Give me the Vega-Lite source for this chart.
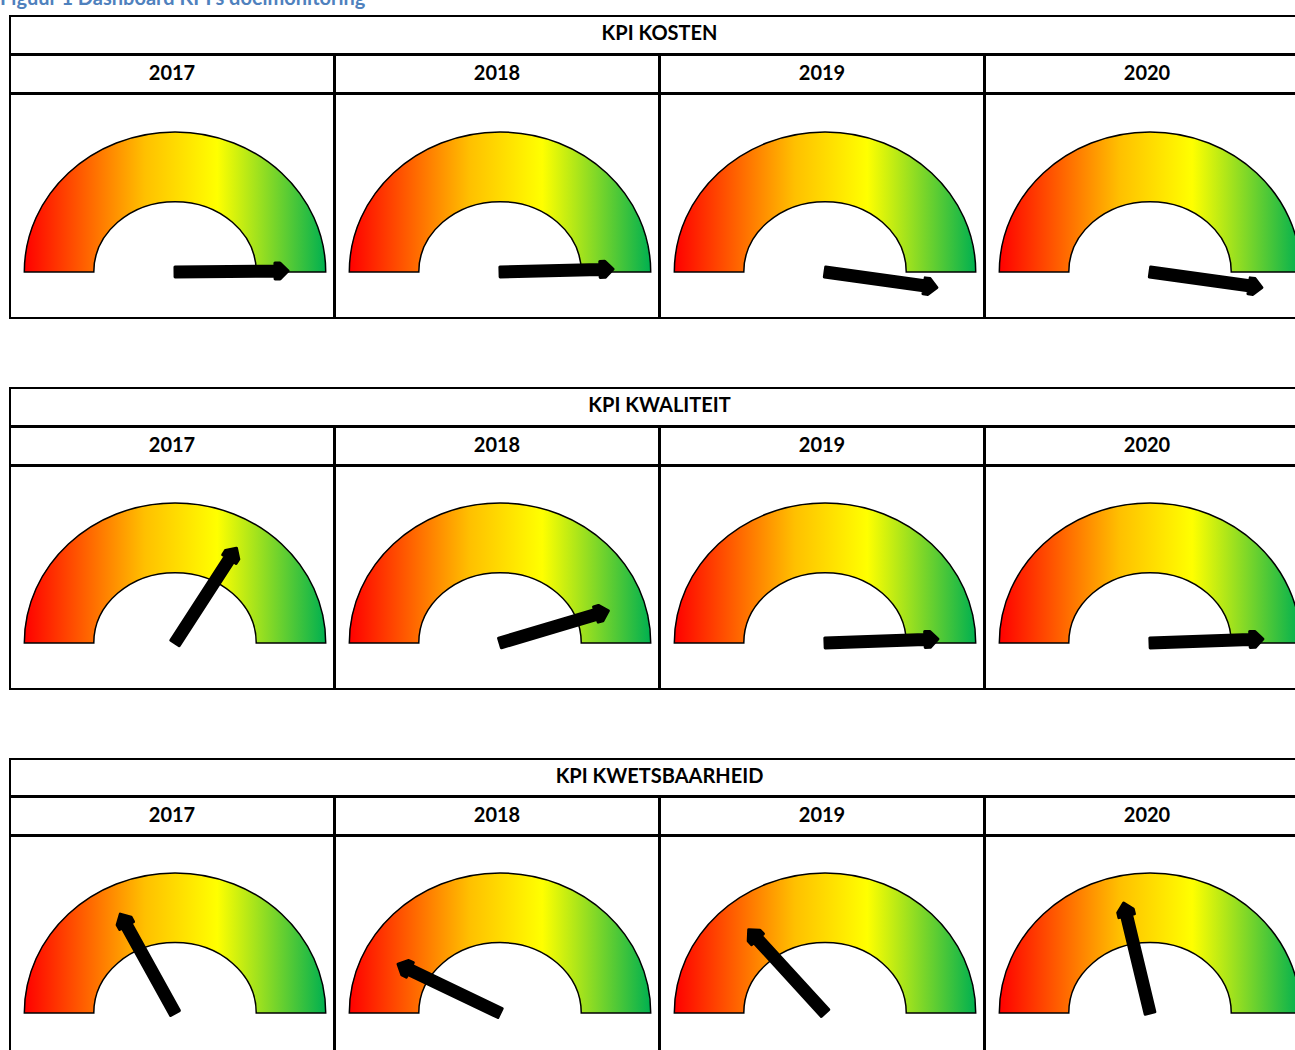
{
  "$schema": "https://vega.github.io/schema/vega-lite/v6.json",
  "padding": {"left": 0, "top": -11, "right": -15, "bottom": -12},
  "title": {"text": "Figuur 1 Dashboard KPI's doelmonitoring", "anchor": "start", "color": "#4F81BD", "font": "Lato", "fontSize": 20, "fontWeight": "bold", "dx": -9, "offset": 6},
  "datasets": {
    "kpi": [
      {"kpi": "KPI KOSTEN", "year": "2017", "value": 99.7},
      {"kpi": "KPI KOSTEN", "year": "2018", "value": 99.2},
      {"kpi": "KPI KOSTEN", "year": "2019", "value": 104.4},
      {"kpi": "KPI KOSTEN", "year": "2020", "value": 104.4},
      {"kpi": "KPI KWALITEIT", "year": "2017", "value": 68.3},
      {"kpi": "KPI KWALITEIT", "year": "2018", "value": 90.8},
      {"kpi": "KPI KWALITEIT", "year": "2019", "value": 98.9},
      {"kpi": "KPI KWALITEIT", "year": "2020", "value": 98.9},
      {"kpi": "KPI KWETSBAARHEID", "year": "2017", "value": 33.9},
      {"kpi": "KPI KWETSBAARHEID", "year": "2018", "value": 14.2},
      {"kpi": "KPI KWETSBAARHEID", "year": "2019", "value": 26.4},
      {"kpi": "KPI KWETSBAARHEID", "year": "2020", "value": 42.5}
    ]
  },
  "config": {
    "view": {"stroke": "black", "strokeWidth": 2},
    "text": {"font": "Lato", "fontSize": 20, "fontWeight": "bold", "color": "black", "align": "center", "baseline": "middle"},
    "facet": {"spacing": -2},
    "concat": {"spacing": -2}
  },
  "spacing": 68,
  "vconcat": [
    {
      "spacing": -2,
      "vconcat": [
        {
          "data": {"name": "kpi"},
          "transform": [{"filter": "datum.kpi === 'KPI KOSTEN'"}, {"aggregate": [{"op": "count", "as": "n"}], "groupby": ["kpi"]}],
          "width": 1299, "height": 38,
          "mark": {"type": "text", "dy": -1},
          "encoding": {
            "x": {"datum": 0, "type": "quantitative", "scale": {"domain": [-1, 1], "nice": false}, "axis": null},
            "y": {"datum": 0, "type": "quantitative", "scale": {"domain": [-1, 1], "nice": false}, "axis": null},
            "text": {"field": "kpi", "type": "nominal"}
          }
        },
        {
          "data": {"name": "kpi"},
          "transform": [{"filter": "datum.kpi === 'KPI KOSTEN'"}],
          "facet": {"column": {"field": "year", "type": "ordinal", "title": null, "header": {"labels": false}}},
          "spacing": -2,
          "spec": {
            "width": 324, "height": 38,
            "mark": {"type": "text"},
            "encoding": {
              "x": {"datum": 0, "type": "quantitative", "scale": {"domain": [-1, 1], "nice": false}, "axis": null},
              "y": {"datum": 0, "type": "quantitative", "scale": {"domain": [-1, 1], "nice": false}, "axis": null},
              "text": {"field": "year", "type": "nominal"}
            }
          }
        },
        {
          "data": {"name": "kpi"},
          "transform": [{"filter": "datum.kpi === 'KPI KOSTEN'"}],
          "facet": {"column": {"field": "year", "type": "ordinal", "title": null, "header": {"labels": false}}},
          "spacing": -2,
          "spec": {
            "width": 324, "height": 224,
            "encoding": {
              "x": {"datum": 0, "type": "quantitative", "scale": {"domain": [-1.095, 1.055], "nice": false, "zero": false}, "axis": null},
              "y": {"datum": 0, "type": "quantitative", "scale": {"domain": [-0.3052, 1.1812], "nice": false, "zero": false}, "axis": null}
            },
            "layer": [
              {
                "mark": {"type": "point", "shape": "M -1 0 A 1 0.929 0 0 1 1 0 L 0.539 0 A 0.539 0.467 0 0 0 -0.539 0 Z", "size": 90844, "filled": true, "opacity": 1, "stroke": "black", "strokeWidth": 1.5,
                  "fill": {"gradient": "linear", "x1": 0, "y1": 0, "x2": 1, "y2": 0, "stops": [{"offset": 0, "color": "#FF0000"}, {"offset": 0.4, "color": "#FFC000"}, {"offset": 0.64, "color": "#FFFF00"}, {"offset": 1, "color": "#00B050"}]}}
              },
              {
                "mark": {"type": "point", "shape": "M -0.05 0 L -0.05 -1.0 L -0.08 -1.0 L -0.08 -1.05 L 0 -1.13 L 0.08 -1.05 L 0.08 -1.0 L 0.05 -1.0 L 0.05 0 Z", "size": 40000, "filled": true, "opacity": 1, "fill": "black", "stroke": "black", "strokeWidth": 3, "strokeJoin": "round"},
                "encoding": {"angle": {"field": "value", "type": "quantitative", "scale": {"domain": [0, 100], "range": [-90, 90]}, "legend": null}}
              }
            ]
          }
        }
      ]
    },
    {
      "spacing": -2,
      "vconcat": [
        {
          "data": {"name": "kpi"},
          "transform": [{"filter": "datum.kpi === 'KPI KWALITEIT'"}, {"aggregate": [{"op": "count", "as": "n"}], "groupby": ["kpi"]}],
          "width": 1299, "height": 38,
          "mark": {"type": "text", "dy": -1},
          "encoding": {
            "x": {"datum": 0, "type": "quantitative", "scale": {"domain": [-1, 1], "nice": false}, "axis": null},
            "y": {"datum": 0, "type": "quantitative", "scale": {"domain": [-1, 1], "nice": false}, "axis": null},
            "text": {"field": "kpi", "type": "nominal"}
          }
        },
        {
          "data": {"name": "kpi"},
          "transform": [{"filter": "datum.kpi === 'KPI KWALITEIT'"}],
          "facet": {"column": {"field": "year", "type": "ordinal", "title": null, "header": {"labels": false}}},
          "spacing": -2,
          "spec": {
            "width": 324, "height": 38,
            "mark": {"type": "text"},
            "encoding": {
              "x": {"datum": 0, "type": "quantitative", "scale": {"domain": [-1, 1], "nice": false}, "axis": null},
              "y": {"datum": 0, "type": "quantitative", "scale": {"domain": [-1, 1], "nice": false}, "axis": null},
              "text": {"field": "year", "type": "nominal"}
            }
          }
        },
        {
          "data": {"name": "kpi"},
          "transform": [{"filter": "datum.kpi === 'KPI KWALITEIT'"}],
          "facet": {"column": {"field": "year", "type": "ordinal", "title": null, "header": {"labels": false}}},
          "spacing": -2,
          "spec": {
            "width": 324, "height": 223,
            "encoding": {
              "x": {"datum": 0, "type": "quantitative", "scale": {"domain": [-1.095, 1.055], "nice": false, "zero": false}, "axis": null},
              "y": {"datum": 0, "type": "quantitative", "scale": {"domain": [-0.3052, 1.1745], "nice": false, "zero": false}, "axis": null}
            },
            "layer": [
              {
                "mark": {"type": "point", "shape": "M -1 0 A 1 0.929 0 0 1 1 0 L 0.539 0 A 0.539 0.467 0 0 0 -0.539 0 Z", "size": 90844, "filled": true, "opacity": 1, "stroke": "black", "strokeWidth": 1.5,
                  "fill": {"gradient": "linear", "x1": 0, "y1": 0, "x2": 1, "y2": 0, "stops": [{"offset": 0, "color": "#FF0000"}, {"offset": 0.4, "color": "#FFC000"}, {"offset": 0.64, "color": "#FFFF00"}, {"offset": 1, "color": "#00B050"}]}}
              },
              {
                "mark": {"type": "point", "shape": "M -0.05 0 L -0.05 -1.0 L -0.08 -1.0 L -0.08 -1.05 L 0 -1.13 L 0.08 -1.05 L 0.08 -1.0 L 0.05 -1.0 L 0.05 0 Z", "size": 40000, "filled": true, "opacity": 1, "fill": "black", "stroke": "black", "strokeWidth": 3, "strokeJoin": "round"},
                "encoding": {"angle": {"field": "value", "type": "quantitative", "scale": {"domain": [0, 100], "range": [-90, 90]}, "legend": null}}
              }
            ]
          }
        }
      ]
    },
    {
      "spacing": -2,
      "vconcat": [
        {
          "data": {"name": "kpi"},
          "transform": [{"filter": "datum.kpi === 'KPI KWETSBAARHEID'"}, {"aggregate": [{"op": "count", "as": "n"}], "groupby": ["kpi"]}],
          "width": 1299, "height": 37,
          "mark": {"type": "text", "dy": -1},
          "encoding": {
            "x": {"datum": 0, "type": "quantitative", "scale": {"domain": [-1, 1], "nice": false}, "axis": null},
            "y": {"datum": 0, "type": "quantitative", "scale": {"domain": [-1, 1], "nice": false}, "axis": null},
            "text": {"field": "kpi", "type": "nominal"}
          }
        },
        {
          "data": {"name": "kpi"},
          "transform": [{"filter": "datum.kpi === 'KPI KWETSBAARHEID'"}],
          "facet": {"column": {"field": "year", "type": "ordinal", "title": null, "header": {"labels": false}}},
          "spacing": -2,
          "spec": {
            "width": 324, "height": 38,
            "mark": {"type": "text"},
            "encoding": {
              "x": {"datum": 0, "type": "quantitative", "scale": {"domain": [-1, 1], "nice": false}, "axis": null},
              "y": {"datum": 0, "type": "quantitative", "scale": {"domain": [-1, 1], "nice": false}, "axis": null},
              "text": {"field": "year", "type": "nominal"}
            }
          }
        },
        {
          "data": {"name": "kpi"},
          "transform": [{"filter": "datum.kpi === 'KPI KWETSBAARHEID'"}],
          "facet": {"column": {"field": "year", "type": "ordinal", "title": null, "header": {"labels": false}}},
          "spacing": -2,
          "spec": {
            "width": 324, "height": 225,
            "encoding": {
              "x": {"datum": 0, "type": "quantitative", "scale": {"domain": [-1.095, 1.055], "nice": false, "zero": false}, "axis": null},
              "y": {"datum": 0, "type": "quantitative", "scale": {"domain": [-0.3185, 1.1745], "nice": false, "zero": false}, "axis": null}
            },
            "layer": [
              {
                "mark": {"type": "point", "shape": "M -1 0 A 1 0.929 0 0 1 1 0 L 0.539 0 A 0.539 0.467 0 0 0 -0.539 0 Z", "size": 90844, "filled": true, "opacity": 1, "stroke": "black", "strokeWidth": 1.5,
                  "fill": {"gradient": "linear", "x1": 0, "y1": 0, "x2": 1, "y2": 0, "stops": [{"offset": 0, "color": "#FF0000"}, {"offset": 0.4, "color": "#FFC000"}, {"offset": 0.64, "color": "#FFFF00"}, {"offset": 1, "color": "#00B050"}]}}
              },
              {
                "mark": {"type": "point", "shape": "M -0.05 0 L -0.05 -1.0 L -0.08 -1.0 L -0.08 -1.05 L 0 -1.13 L 0.08 -1.05 L 0.08 -1.0 L 0.05 -1.0 L 0.05 0 Z", "size": 40000, "filled": true, "opacity": 1, "fill": "black", "stroke": "black", "strokeWidth": 3, "strokeJoin": "round"},
                "encoding": {"angle": {"field": "value", "type": "quantitative", "scale": {"domain": [0, 100], "range": [-90, 90]}, "legend": null}}
              }
            ]
          }
        }
      ]
    }
  ]
}
